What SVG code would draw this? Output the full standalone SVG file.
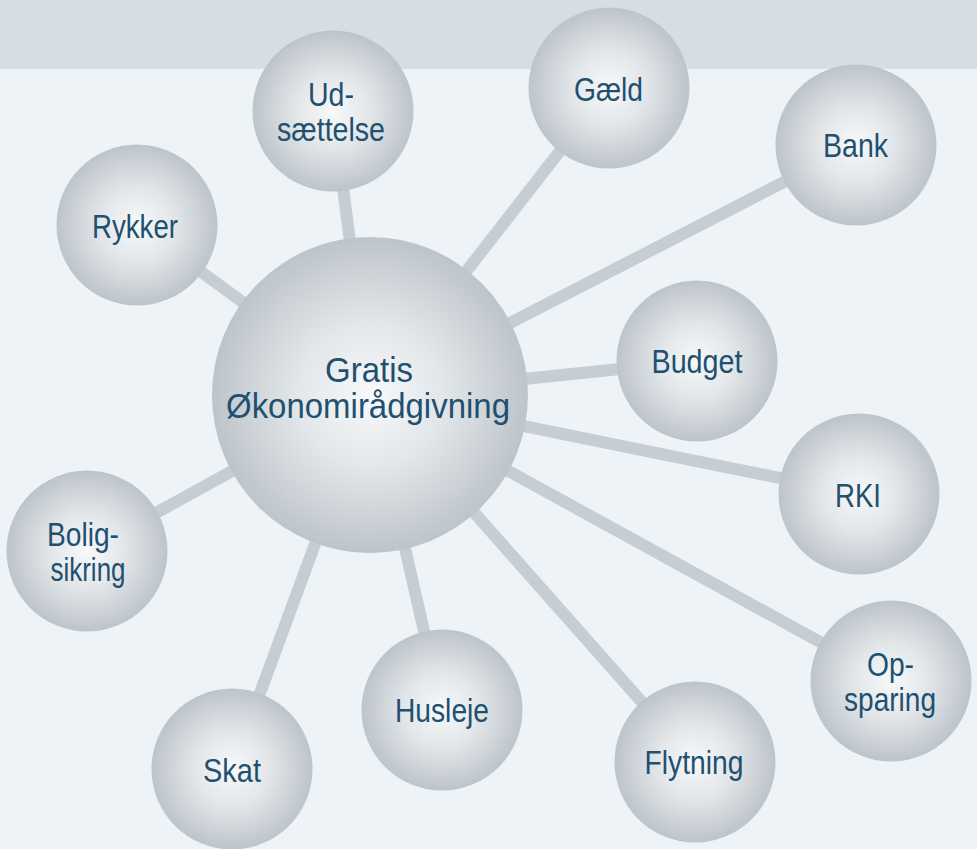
<svg xmlns="http://www.w3.org/2000/svg" width="977" height="849" viewBox="0 0 977 849">
<defs>
<radialGradient id="ball" cx="50%" cy="50%" r="50%">
<stop offset="0" stop-color="#f7f9fa"/>
<stop offset="0.45" stop-color="#e3e7ea"/>
<stop offset="1" stop-color="#bdc4ca"/>
</radialGradient>
<style>
.bg{fill:#eef3f7}
.band{fill:#d6dee4}
.c{fill:url(#ball)}
.con line{stroke:#c6ced4;stroke-width:12;stroke-linecap:butt}
text{font-family:"Liberation Sans",Arial,sans-serif;fill:#1f5070;text-anchor:middle;font-size:33px}
.big{font-size:35px}
</style>
</defs>
<rect class="bg" x="0" y="0" width="977" height="849"/>
<rect class="band" x="0" y="0" width="977" height="69"/>
<g id="connectors" class="con">
<line x1="370" y1="395" x2="333" y2="111"/>
<line x1="370" y1="395" x2="609" y2="88"/>
<line x1="370" y1="395" x2="856" y2="145"/>
<line x1="370" y1="395" x2="137" y2="225"/>
<line x1="370" y1="395" x2="697" y2="361"/>
<line x1="370" y1="395" x2="859" y2="494"/>
<line x1="370" y1="395" x2="891" y2="681"/>
<line x1="370" y1="395" x2="695" y2="762"/>
<line x1="370" y1="395" x2="442" y2="710"/>
<line x1="370" y1="395" x2="232" y2="769"/>
<line x1="370" y1="395" x2="87" y2="551"/>
</g>
<g id="center">
<circle class="c" cx="370" cy="395" r="158"/>
<text class="big" x="369" y="382" textLength="88" lengthAdjust="spacingAndGlyphs">Gratis</text>
<text class="big" x="368" y="418" textLength="284" lengthAdjust="spacingAndGlyphs">Økonomirådgivning</text>
</g>
<g id="udsaettelse">
<circle class="c" cx="333" cy="111" r="80.5"/>
<text x="331" y="106" textLength="46" lengthAdjust="spacingAndGlyphs">Ud-</text>
<text x="331" y="141" textLength="108" lengthAdjust="spacingAndGlyphs">sættelse</text>
</g>
<g id="gaeld">
<circle class="c" cx="609" cy="88" r="80.5"/>
<text x="608.5" y="101" textLength="69" lengthAdjust="spacingAndGlyphs">Gæld</text>
</g>
<g id="bank">
<circle class="c" cx="856" cy="145" r="80.5"/>
<text x="855.5" y="157" textLength="65" lengthAdjust="spacingAndGlyphs">Bank</text>
</g>
<g id="rykker">
<circle class="c" cx="137" cy="225" r="80.5"/>
<text x="135" y="238" textLength="86" lengthAdjust="spacingAndGlyphs">Rykker</text>
</g>
<g id="budget">
<circle class="c" cx="697" cy="361" r="80.5"/>
<text x="697" y="373" textLength="91" lengthAdjust="spacingAndGlyphs">Budget</text>
</g>
<g id="rki">
<circle class="c" cx="859" cy="494" r="80.5"/>
<text x="858" y="507" textLength="46" lengthAdjust="spacingAndGlyphs">RKI</text>
</g>
<g id="opsparing">
<circle class="c" cx="891" cy="681" r="80.5"/>
<text x="890.5" y="676" textLength="47" lengthAdjust="spacingAndGlyphs">Op-</text>
<text x="890" y="711" textLength="92" lengthAdjust="spacingAndGlyphs">sparing</text>
</g>
<g id="flytning">
<circle class="c" cx="695" cy="762" r="80.5"/>
<text x="694" y="774" textLength="99" lengthAdjust="spacingAndGlyphs">Flytning</text>
</g>
<g id="husleje">
<circle class="c" cx="442" cy="710" r="80.5"/>
<text x="442" y="722" textLength="94" lengthAdjust="spacingAndGlyphs">Husleje</text>
</g>
<g id="skat">
<circle class="c" cx="232" cy="769" r="80.5"/>
<text x="232" y="782" textLength="58" lengthAdjust="spacingAndGlyphs">Skat</text>
</g>
<g id="boligsikring">
<circle class="c" cx="87" cy="551" r="80.5"/>
<text x="83" y="546" textLength="72" lengthAdjust="spacingAndGlyphs">Bolig-</text>
<text x="88" y="581" textLength="75" lengthAdjust="spacingAndGlyphs">sikring</text>
</g>
</svg>
